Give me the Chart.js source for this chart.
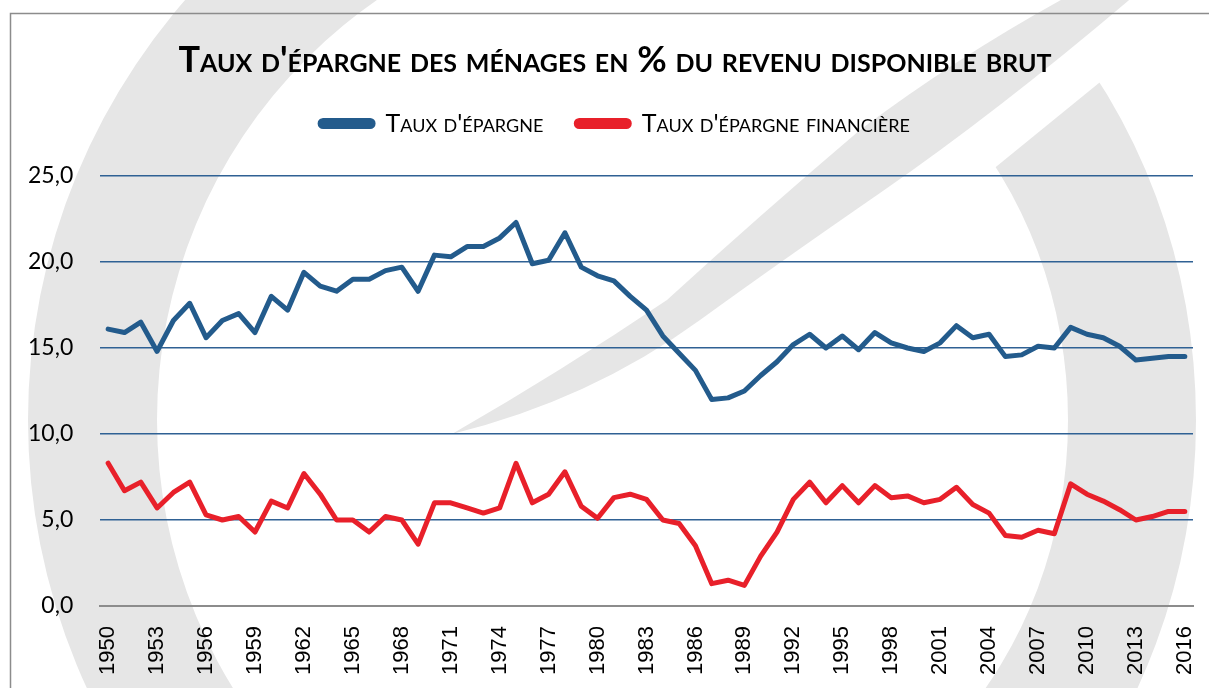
<!DOCTYPE html>
<html lang="fr">
<head>
<meta charset="utf-8">
<title>Taux d'épargne des ménages</title>
<script src="https://cdn.jsdelivr.net/npm/chart.js@4"></script>
<style>
  html, body { margin: 0; padding: 0; background: #ffffff; }
  #wrap { position: relative; width: 1209px; height: 688px; }
</style>
</head>
<body>
<div id="wrap"><canvas id="epargneChart"></canvas></div>
<script>
const FIRST_YEAR = 1950;
const LAST_YEAR = 2016;
const years = [];
for (let y = FIRST_YEAR; y <= LAST_YEAR; y++) years.push(String(y));

const tauxEpargne = [
  16.1, 15.9, 16.5, 14.8, 16.6, 17.6, 15.6, 16.6, 17.0, 15.9,
  18.0, 17.2, 19.4, 18.6, 18.3, 19.0, 19.0, 19.5, 19.7, 18.3,
  20.4, 20.3, 20.9, 20.9, 21.4, 22.3, 19.9, 20.1, 21.7, 19.7,
  19.2, 18.9, 18.0, 17.2, 15.7, 14.7, 13.7, 12.0, 12.1, 12.5,
  13.4, 14.2, 15.2, 15.8, 15.0, 15.7, 14.9, 15.9, 15.3, 15.0,
  14.8, 15.3, 16.3, 15.6, 15.8, 14.5, 14.6, 15.1, 15.0, 16.2,
  15.8, 15.6, 15.1, 14.3, 14.4, 14.5, 14.5,
];

const tauxEpargneFinanciere = [
  8.3, 6.7, 7.2, 5.7, 6.6, 7.2, 5.3, 5.0, 5.2, 4.3,
  6.1, 5.7, 7.7, 6.5, 5.0, 5.0, 4.3, 5.2, 5.0, 3.6,
  6.0, 6.0, 5.7, 5.4, 5.7, 8.3, 6.0, 6.5, 7.8, 5.8,
  5.1, 6.3, 6.5, 6.2, 5.0, 4.8, 3.5, 1.3, 1.5, 1.2,
  2.9, 4.3, 6.2, 7.2, 6.0, 7.0, 6.0, 7.0, 6.3, 6.4,
  6.0, 6.2, 6.9, 5.9, 5.4, 4.1, 4.0, 4.4, 4.2, 7.1,
  6.5, 6.1, 5.6, 5.0, 5.2, 5.5, 5.5,
];

const BLUE = "#235b8c";
const RED = "#e8202a";
const GRID_BLUE = "#2f6194";
const AXIS_GRAY = "#8c8c8c";
const WATERMARK = "#e6e6e6";
const FONT = "Lato, 'Open Sans', sans-serif";

// grey logo shapes behind the chart + the thin frame
const backdrop = {
  id: "backdrop",
  beforeDraw(chart) {
    const ctx = chart.ctx;
    ctx.save();
    ctx.fillStyle = "#ffffff";
    ctx.fillRect(0, 0, chart.width, chart.height);
    ctx.fillStyle = WATERMARK;

    // left crescent
    ctx.save();
    ctx.beginPath();
    ctx.rect(0, 0, 560, chart.height);
    ctx.clip();
    ctx.beginPath();
    ctx.arc(668, 420, 640, 0, Math.PI * 2);
    ctx.arc(668, 420, 511, 0, Math.PI * 2, true);
    ctx.fill("evenodd");
    ctx.restore();

    // right arc, cut on top by a diagonal
    ctx.save();
    ctx.beginPath();
    ctx.moveTo(900, 245);
    ctx.lineTo(1250, -40);
    ctx.lineTo(1250, chart.height + 10);
    ctx.lineTo(900, chart.height + 10);
    ctx.closePath();
    ctx.clip();
    ctx.beginPath();
    ctx.ellipse(670, 420, 526, 585, 0, 0, Math.PI * 2);
    ctx.ellipse(670, 420, 398, 440, 0, 0, Math.PI * 2, true);
    ctx.fill("evenodd");
    ctx.restore();

    // swoosh
    ctx.beginPath();
    ctx.moveTo(452, 434);
    ctx.quadraticCurveTo(560, 372, 667, 300);
    ctx.quadraticCurveTo(760, 215, 860, 130);
    ctx.quadraticCurveTo(960, 55, 1070, -5);
    ctx.lineTo(1135, -5);
    ctx.quadraticCurveTo(1000, 110, 880, 193);
    ctx.quadraticCurveTo(780, 262, 700, 320);
    ctx.quadraticCurveTo(590, 400, 452, 434);
    ctx.closePath();
    ctx.fill();

    ctx.strokeStyle = AXIS_GRAY;
    ctx.lineWidth = 1.5;
    ctx.strokeRect(10.5, 13.5, chart.width + 20, chart.height + 20);
    ctx.restore();
  },
};

const ctx = document.getElementById("epargneChart").getContext("2d");
new Chart(ctx, {
  type: "line",
  data: {
    labels: years,
    datasets: [
      {
        label: "Taux d'épargne",
        data: tauxEpargne,
        borderColor: BLUE,
        backgroundColor: BLUE,
        borderWidth: 5,
        pointRadius: 0,
        tension: 0,
        borderJoinStyle: "round",
        borderCapStyle: "round",
      },
      {
        label: "Taux d'épargne financière",
        data: tauxEpargneFinanciere,
        borderColor: RED,
        backgroundColor: RED,
        borderWidth: 5,
        pointRadius: 0,
        tension: 0,
        borderJoinStyle: "round",
        borderCapStyle: "round",
      },
    ],
  },
  options: {
    responsive: true,
    maintainAspectRatio: false,
    animation: false,
    layout: { padding: { left: 37, right: 16, top: 0, bottom: 0 } },
    scales: {
      x: {
        offset: true,
        grid: { display: false, drawTicks: false },
        border: { display: true, color: AXIS_GRAY, width: 2 },
        ticks: {
          autoSkip: false,
          minRotation: 90,
          maxRotation: 90,
          padding: 20,
          color: "#000000",
          font: { family: "'Liberation Sans', Arial, sans-serif", size: 22 },
          callback: function (value, index) {
            return index % 3 === 0 ? this.getLabelForValue(value) : "";
          },
        },
        afterFit: (scale) => {
          scale.height = 82;
          scale.paddingLeft = 0;
          scale.paddingRight = 0;
        },
      },
      y: {
        min: 0,
        max: 25,
        grid: {
          drawTicks: false,
          color: (c) => (c.tick && c.tick.value === 0 ? AXIS_GRAY : GRID_BLUE),
          lineWidth: (c) => (c.tick && c.tick.value === 0 ? 2 : 1.5),
        },
        border: { display: false },
        ticks: {
          stepSize: 5,
          // mirrored so the labels are not clipped to the narrow scale box;
          // a negative padding pulls them back to the left of the plot
          mirror: true,
          crossAlign: "far",
          padding: -72,
          color: "#000000",
          font: { family: FONT, size: 23 },
          callback: (value) => value.toFixed(1).replace(".", ","),
        },
        afterFit: (scale) => { scale.width = 63; },
      },
    },
    plugins: {
      tooltip: { enabled: false },
      title: {
        display: true,
        text: "Taux d'épargne des ménages en % du revenu disponible brut",
        color: "#000000",
        font: { family: FONT, size: 36, weight: "small-caps bold", lineHeight: 1 },
        padding: { top: 42, bottom: 0 },
      },
      // empty line used as a gap between the legend and the plot
      subtitle: {
        display: true,
        text: "",
        font: { size: 1, lineHeight: 1 },
        padding: { top: 0, bottom: 29 },
      },
      legend: {
        display: true,
        position: "top",
        weight: 1700,
        labels: {
          color: "#000000",
          font: { family: FONT, size: 25, weight: "small-caps normal" },
          boxWidth: 53,
          boxHeight: 6,
          padding: 33,
          useBorderRadius: true,
          borderRadius: 3,
        },
      },
    },
  },
  plugins: [backdrop],
});
</script>
</body>
</html>
